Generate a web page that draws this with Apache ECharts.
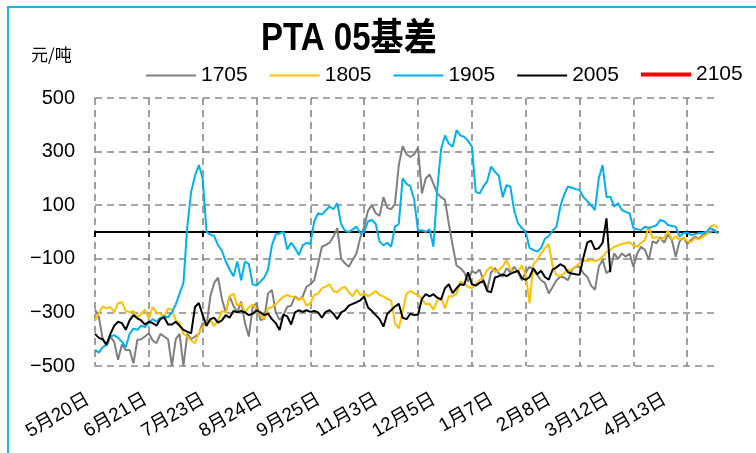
<!DOCTYPE html>
<html lang="zh">
<head>
<meta charset="UTF-8">
<title>PTA 05基差</title>
<script src="https://cdn.jsdelivr.net/npm/echarts@6/dist/echarts.min.js"></script>
<style>
  html, body { margin: 0; padding: 0; background: #fff; }
  #container { width: 756px; height: 453px; }
</style>
</head>
<body>
<div id="container"></div>
<script>
    // 数据
    let tickLabels = ['5月20日','6月21日','7月23日','8月24日','9月25日','11月3日','12月5日','1月7日','2月8日','3月12日','4月13日'];
    let seriesNames = ['1705','1805','1905','2005','2105'];
    let seriesColors = ['#7f7f7f','#ffc000','#00b0f0','#000000','#ff0000'];

    let s1705 = [
        -290,-316,-400,-425,-390,-410,-477,-420,-440,-440,
        -490,-403,-400,-390,-378,-405,-415,-380,-390,-400,
        -500,-400,-380,-500,-380,-400,-390,-380,-340,-350,
        -240,-190,-170,-250,-300,-240,-275,-300,-260,-340,
        -390,-280,-266,-328,-325,-229,-216,-300,-328,-310,
        -279,-275,-240,-254,-241,-204,-195,-180,-120,-55,
        -48,-40,-17,14,-100,-117,-130,-104,-80,-20,
        20,80,100,70,60,130,90,85,105,250,
        320,290,280,290,315,144,200,215,180,144,
        130,120,30,-50,-125,-135,-150,-185,-145,-154,
        -140,-180,-216,-150,-135,-154,-167,-135,-150,-130,
        -150,-180,-150,-130,-140,-160,-180,-190,-229,-205,
        -180,-167,-170,-180,-142,-130,-130,-154,-167,-200,
        -216,-130,-104,-154,-142,-80,-100,-80,-92,-80,
        -130,-80,-55,-67,-104,-35,-42,-20,-40,-10,
        -30,-92,-35,-20,-45,-30,-17,-25,-10,-5,
        0,5,-5
    ];
    let s1805 = [
        -330,-303,-278,-285,-280,-300,-265,-262,-295,-300,
        -295,-320,-305,-290,-325,-280,-300,-305,-315,-285,
        -290,-330,-340,-380,-390,-405,-415,-375,-355,-340,
        -330,-350,-330,-295,-300,-240,-230,-275,-266,-300,
        -280,-270,-290,-310,-325,-285,-280,-270,-255,-241,
        -235,-241,-245,-254,-245,-275,-266,-235,-230,-210,
        -204,-195,-220,-225,-210,-205,-225,-240,-215,-235,
        -230,-240,-230,-220,-235,-240,-250,-255,-340,-360,
        -295,-230,-220,-229,-235,-250,-270,-268,-290,-255,
        -245,-285,-240,-240,-230,-185,-190,-204,-210,-195,
        -180,-168,-142,-130,-150,-142,-130,-104,-140,-150,
        -148,-125,-160,-266,-120,-104,-80,-60,-45,-130,
        -160,-165,-154,-142,-140,-130,-117,-104,-108,-105,
        -108,-104,-92,-75,-67,-55,-50,-45,-42,-38,
        -50,-55,-40,-30,20,-24,-18,-30,-20,5,
        -28,-17,-28,-20,-35,-38,-22,-28,-18,-10,
        20,26,15
    ];
    let s1905 = [
        -440,-450,-430,-420,-390,-385,-395,-410,-430,-380,
        -360,-365,-350,-355,-340,-325,-335,-320,-315,-318,
        -300,-270,-230,-190,20,150,210,250,200,0,
        -10,-15,-50,-70,-110,-140,-165,-110,-180,-110,
        -120,-195,-200,-185,-170,-140,-50,-10,-5,0,
        -65,-40,-60,-86,-50,-40,-45,40,70,65,
        80,95,85,107,30,5,0,10,20,-5,
        0,40,45,30,-36,-50,-40,-55,20,30,
        200,180,170,120,5,7,0,10,-55,160,
        310,360,330,318,380,360,355,340,318,150,
        144,170,190,244,225,210,130,175,170,80,
        32,15,0,-60,-67,-73,-60,-25,-15,5,
        20,95,140,170,165,160,157,130,115,100,
        82,200,250,130,132,95,107,82,75,70,
        14,10,7,20,15,20,25,45,40,26,
        22,20,-17,-5,-2,-11,-8,-5,-3,1,
        14,8,-5
    ];
    let s2005 = [
        -380,-395,-400,-420,-380,-350,-335,-340,-365,-330,
        -310,-322,-330,-345,-335,-340,-350,-325,-318,-345,
        -345,-335,-350,-365,-372,-378,-280,-265,-310,-350,
        -325,-320,-338,-330,-310,-320,-295,-300,-295,-300,
        -310,-305,-292,-300,-310,-305,-325,-340,-366,-308,
        -315,-345,-300,-292,-298,-292,-298,-295,-300,-320,
        -298,-292,-305,-325,-300,-292,-275,-268,-262,-255,
        -241,-282,-295,-310,-325,-353,-305,-292,-278,-268,
        -320,-325,-305,-310,-308,-250,-232,-240,-232,-245,
        -252,-210,-195,-228,-210,-195,-198,-150,-195,-200,
        -190,-182,-220,-225,-170,-165,-158,-165,-156,-150,
        -145,-172,-178,-168,-135,-158,-145,-168,-178,-140,
        -132,-120,-128,-150,-155,-158,-160,-95,-40,-32,
        -65,-60,-40,51,-150
    ];
    let s2105 = [];

    let labelStep = 15;   // 每个日期标签之间的点数
    let gridStep = 14;    // 竖向网格线间隔
    let categories = s1705.map(function (v, i) {
        return i % labelStep === 0 ? (tickLabels[i / labelStep] || '') : '';
    });
    let allData = [s1705, s1805, s1905, s2005, s2105];

    let chart = echarts.init(document.getElementById('container'));
    let gridLine = { color: '#888888', width: 1.6, type: [7, 5] };
    let legendText = {
        fontSize: 21,
        color: '#000',
        fontFamily: "'Liberation Sans', Arial, sans-serif"
    };
    let option = {
        backgroundColor: '#ffffff',
        animation: false,
        legend: [
            {
                left: 141,
                top: 60,
                icon: 'rect',
                itemWidth: 50,
                itemHeight: 2,
                itemGap: 22,
                data: seriesNames.slice(0, 4),
                textStyle: legendText
            },
            {
                left: 636,
                top: 59,
                icon: 'rect',
                itemWidth: 50,
                itemHeight: 4,
                data: seriesNames.slice(4),
                textStyle: legendText
            }
        ],
        graphic: [
            {   // 外框
                type: 'rect',
                shape: { x: 8, y: 7, width: 790, height: 500 },
                style: { fill: 'none', stroke: '#1cb2ef', lineWidth: 2 }
            },
            {   // 标题
                type: 'text',
                x: 261,
                y: 40,
                scaleX: 0.87,
                style: {
                    text: 'PTA 05基差',
                    fontSize: 38,
                    fontWeight: 'bold',
                    fill: '#000',
                    verticalAlign: 'middle',
                    fontFamily: "'Liberation Sans', 'Noto Sans CJK SC', sans-serif"
                }
            },
            {   // 单位
                type: 'text',
                x: 31,
                y: 46,
                style: {
                    text: '元/吨',
                    fontSize: 17,
                    fill: '#000',
                    fontFamily: "'Noto Sans CJK SC', sans-serif"
                }
            }
        ],
        grid: {
            left: 95,
            right: 38,
            top: 98,
            bottom: 87,
            containLabel: false,
            outerBoundsMode: 'none'
        },
        xAxis: [
            {   // 零轴 + 网格线
                type: 'category',
                data: categories,
                boundaryGap: false,
                axisLine: { onZero: true, lineStyle: { color: '#000', width: 2 } },
                axisTick: { show: true, interval: gridStep - 1, length: 5, lineStyle: { color: '#000', width: 2 } },
                axisLabel: { show: false },
                splitLine: { show: true, interval: gridStep - 1, lineStyle: gridLine }
            },
            {   // 底部日期标签
                type: 'category',
                data: categories,
                boundaryGap: false,
                position: 'bottom',
                axisLine: { show: false, onZero: false },
                axisTick: { show: false },
                splitLine: { show: false },
                axisLabel: {
                    interval: labelStep - 1,
                    rotate: 30,
                    margin: 28,
                    padding: [0, 8, 0, 0],
                    fontSize: 19,
                    color: '#000',
                    fontFamily: "'Liberation Sans', 'Noto Sans CJK SC', sans-serif"
                }
            }
        ],
        yAxis: {
            type: 'value',
            min: -500,
            max: 500,
            interval: 200,
            axisLine: { show: false },
            axisTick: { show: false },
            splitLine: { show: true, lineStyle: gridLine },
            axisLabel: {
                margin: 20,
                fontSize: 20,
                color: '#000',
                fontFamily: "'Liberation Sans', Arial, sans-serif",
                formatter: function (v) { return String(v).replace('-', '\u2212'); }
            }
        },
        series: seriesNames.map(function (name, k) {
            return {
                name: name,
                type: 'line',
                xAxisIndex: 0,
                data: allData[k],
                symbol: 'none',
                showSymbol: false,
                z: 2 + k,
                lineStyle: { color: seriesColors[k], width: k === 4 ? 4 : 2 },
                itemStyle: { color: seriesColors[k] }
            };
        })
    };
    chart.setOption(option);
</script>
</body>
</html>
